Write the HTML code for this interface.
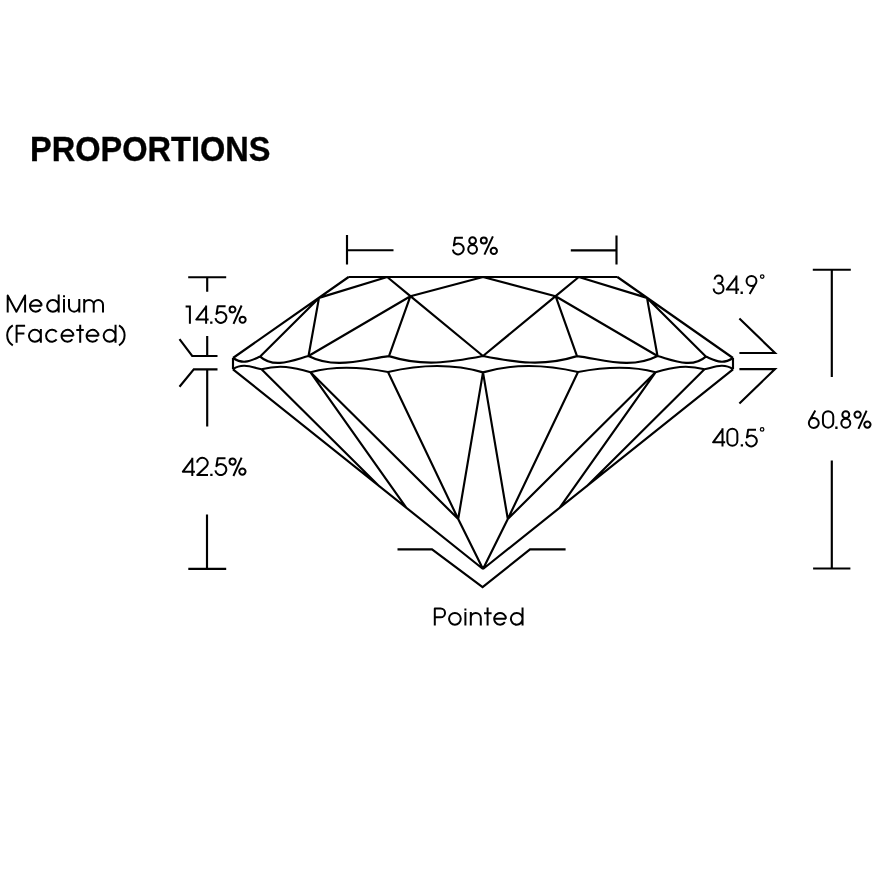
<!DOCTYPE html>
<html><head><meta charset="utf-8"><style>
html,body{margin:0;padding:0;background:#fff;}
body{width:882px;height:884px;overflow:hidden;}
svg{display:block;}
text{font-family:"Liberation Sans", sans-serif;fill:#000;stroke:#fff;stroke-width:0.3px;}
text.b{stroke:#000;stroke-width:0.35px;}
</style></head><body>
<svg width="882" height="884" viewBox="0 0 882 884">
<path d="M348.6,277 L233,358 M617.4,277 L733,358 M319,297.9 L387.2,277 M647,297.9 L578.8,277 M319,297.9 L308.5,356 M647,297.9 L657.5,356 M319,297.9 L260.2,356.6 M647,297.9 L705.8,356.6 M387.2,277 L410.4,296.2 M578.8,277 L555.6,296.2 M410.4,296.2 L483,277 M555.6,296.2 L483,277 M410.4,296.2 L483,356 M555.6,296.2 L483,356 M410.4,296.2 L308.5,356 M555.6,296.2 L657.5,356 M410.4,296.2 L389,356.1 M555.6,296.2 L577,356.1 M233,358 L233,369.3 M733,358 L733,369.3 M233,369.3 L483,569 M733,369.3 L483,569 M261.5,369.3 L379.5,486.6 M704.5,369.3 L586.5,486.6 M310.5,372.3 L406.6,508.2 M655.5,372.3 L559.4,508.2 M310.5,372.3 L458.2,519 M655.5,372.3 L507.8,519 M388,372 L458.2,519 M578,372 L507.8,519 M483,372.4 L458.2,519 M483,372.4 L507.8,519 M458.2,519 L483,569 M507.8,519 L483,569 M233,358 C243.61,364.93 249.76,360.93 260.2,356.6 M733,358 C722.39,364.93 716.24,360.93 705.8,356.6 M260.2,356.6 C274.07,369.21 294.34,359.68 308.5,356 M705.8,356.6 C691.93,369.21 671.66,359.68 657.5,356 M308.5,356 C335.31,369.69 362.19,359.5 389,356.1 M657.5,356 C630.69,369.69 603.81,359.5 577,356.1 M389,356.1 C422.77,366.72 449.49,362.54 483,356 M577,356.1 C543.23,366.72 516.51,362.54 483,356 M233,369.3 C242.41,362.47 252.06,367.31 261.5,369.3 M733,369.3 C723.59,362.47 713.94,367.31 704.5,369.3 M261.5,369.3 C279.42,364.47 292.76,366.97 310.5,372.3 M704.5,369.3 C686.58,364.47 673.24,366.97 655.5,372.3 M310.5,372.3 C336.43,365.11 362.1,367.1 388,372 M655.5,372.3 C629.57,365.11 603.9,367.1 578,372 M388,372 C419.69,364.61 451.31,362.97 483,372.4 M578,372 C546.31,364.61 514.69,362.97 483,372.4 M348.6,277 L617.4,277" fill="none" stroke="#000" stroke-width="2.15" stroke-linejoin="miter" stroke-miterlimit="4" stroke-linecap="butt"/>
<path d="M347,235 L347,264.5 M347,250.2 L393.5,250.2 M616.5,235.5 L616.5,264.4 M570.8,250.3 L616.5,250.3 M188.2,277.2 L226.2,277.2 M207.2,277.2 L207.2,291.7 M207.2,336 L207.2,356 M179.5,339.2 L192.2,356 L217.5,356 M179.5,386.7 L193.8,369.3 L217.5,369.3 M207.2,369.3 L207.2,426.4 M207,514.6 L207,568.8 M188.3,568.8 L226.2,568.8 M739.4,318.5 L775,353 L739.4,353 M739.4,369.1 L775,369.1 L739.4,403.4 M812.8,269.7 L850.8,269.7 M831.8,269.7 L831.8,377 M831.8,460.4 L831.8,568.5 M813.1,568.5 L850.4,568.5 M397.5,549.4 L432,549.4 L482.6,587.1 L530,549.4 L565.6,549.4" fill="none" stroke="#000" stroke-width="2.15" stroke-linejoin="miter" stroke-linecap="butt"/>
<g style="opacity:0.999;will-change:transform"><text x="30" y="161" font-size="34.30" textLength="240.5" lengthAdjust="spacingAndGlyphs" font-weight="bold" class="b">PROPORTIONS</text>
<path d="M7.7,312.6 L7.7,295.45 L16.4,311.7 L25.1,295.45 L25.1,312.6 M29.35,305.85 L41.6,305.85 M41.6,305.85 A5.8,5.8 0 1 0 40.55,309.18 M47.1,305.85 A5.8,5.8 0 1 0 58.7,305.85 A5.8,5.8 0 1 0 47.1,305.85 M58.7,294.5 L58.7,312.6 M64,299.1 L64,312.6 M64,295.2 L64,297.3 M69,299.1 L69,306.5 M69,306.5 A5.15,5.15 0 0 0 79.3,306.5 M79.3,299.1 L79.3,312.6 M84.2,299.1 L84.2,312.6 M84.2,304.82 A4.77,4.77 0 0 1 93.75,304.82 L93.75,312.6 M93.75,304.68 A4.62,4.62 0 0 1 103,304.68 L103,312.6 M12.8,325.3 A11.73,11.73 0 0 0 12.8,345.3 M16.6,342.7 L16.6,325.75 L25.1,325.75 M16.6,333.6 L24.4,333.6 M28.95,335.8 A5.95,5.95 0 1 0 40.85,335.8 A5.95,5.95 0 1 0 28.95,335.8 M40.85,328.9 L40.85,342.7 M56.69,332.14 A5.95,5.95 0 1 0 56.69,339.46 M60.9,335.8 L73.45,335.8 M73.45,335.8 A5.95,5.95 0 1 0 72.37,339.21 M80.2,324.8 L80.2,342.7 M76.3,329.9 L83.8,329.9 M86,335.8 L98.55,335.8 M98.55,335.8 A5.95,5.95 0 1 0 97.47,339.21 M103.65,335.8 A5.95,5.95 0 1 0 115.55,335.8 A5.95,5.95 0 1 0 103.65,335.8 M115.55,324.8 L115.55,342.7 M119,325.3 A11.73,11.73 0 0 1 119,345.3 M434.8,625.6 L434.8,608.45 L440.6,608.45 A4.45,4.45 0 0 1 440.6,617.35 L434.8,617.35 M449.05,618.8 A5.85,5.85 0 1 0 460.75,618.8 A5.85,5.85 0 1 0 449.05,618.8 M465.4,612 L465.4,625.6 M465.4,608.6 L465.4,610.5 M470.8,612 L470.8,625.6 M470.8,617.95 A5,5 0 0 1 480.8,617.95 L480.8,625.6 M487.6,607.5 L487.6,625.6 M484,613.2 L491.6,613.2 M493.6,618.8 L505.95,618.8 M505.95,618.8 A5.85,5.85 0 1 0 504.89,622.16 M510.85,618.8 A5.85,5.85 0 1 0 522.55,618.8 A5.85,5.85 0 1 0 510.85,618.8 M522.55,607.5 L522.55,625.6 M189.9,305.5 L189.9,323.8 M185.6,306.45 L190.85,306.45 M206.1,323.8 L206.1,305.5 M206.4,306.4 L196.3,319.5 L208.6,319.5  M225.6,306.15 L217.8,306.15 L216.55,314 A5.5,5.5 0 1 1 215.45,318.17 M229.55,309.5 A2.95,2.95 0 1 0 235.45,309.5 A2.95,2.95 0 1 0 229.55,309.5 M241.6,305.5 L233.5,323.8 M239.55,319.7 A3.05,3.05 0 1 0 245.65,319.7 A3.05,3.05 0 1 0 239.55,319.7 M192.3,476 L192.3,457.7 M192.6,458.6 L182.9,471.7 L194.9,471.7 M197.12,462.54 A5.3,5.3 0 1 1 206.58,466.26 L197.3,475.05 L208,475.05  M225.5,458.35 L217.7,458.35 L216.45,466.2 A5.5,5.5 0 1 1 215.35,470.37 M229.5,461.6 A3.1,3.1 0 1 0 235.7,461.6 A3.1,3.1 0 1 0 229.5,461.6 M241.6,457.7 L233.4,476 M239.25,471.6 A3.15,3.15 0 1 0 245.55,471.6 A3.15,3.15 0 1 0 239.25,471.6 M462.9,237.65 L455.1,237.65 L453.85,245.5 A5.5,5.5 0 1 1 452.75,249.67 M469.25,240.7 A3.35,3.35 0 1 0 475.95,240.7 A3.35,3.35 0 1 0 469.25,240.7 M468.2,249.3 A4.4,4.4 0 1 0 477,249.3 A4.4,4.4 0 1 0 468.2,249.3 M480.8,240.5 A3,3 0 1 0 486.8,240.5 A3,3 0 1 0 480.8,240.5 M492.9,236.4 L484.4,254.6 M490.65,250.9 A3.15,3.15 0 1 0 496.95,250.9 A3.15,3.15 0 1 0 490.65,250.9 M808.85,423 A4.95,4.95 0 1 0 818.75,423 A4.95,4.95 0 1 0 808.85,423 M815.3,410.6 L809.15,421.31 M822.95,416.3 A5.15,5.15 0 0 1 833.25,416.3 L833.25,422.5 A5.15,5.15 0 0 1 822.95,422.5 Z  M842.35,414.65 A3.45,3.45 0 1 0 849.25,414.65 A3.45,3.45 0 1 0 842.35,414.65 M841.3,423.2 A4.5,4.5 0 1 0 850.3,423.2 A4.5,4.5 0 1 0 841.3,423.2 M854.45,414.6 A3.15,3.15 0 1 0 860.75,414.6 A3.15,3.15 0 1 0 854.45,414.6 M866.6,410.7 L858.4,428.9 M864.25,424.6 A3.15,3.15 0 1 0 870.55,424.6 A3.15,3.15 0 1 0 864.25,424.6 M714.65,279.4 A3.95,3.95 0 1 1 718.6,283.35 L717.4,283.35 M718.6,283.55 A4.95,4.95 0 1 1 713.65,288.5 M736.4,293.9 L736.4,275.6 M736.7,276.5 L726.8,289.6 L739.1,289.6  M746.55,281 A4.95,4.95 0 1 0 756.45,281 A4.95,4.95 0 1 0 746.55,281 M756.15,282.69 L749.6,293.9 M722.5,446.6 L722.5,428.3 M722.8,429.2 L713.1,442.3 L725.2,442.3 M727.35,433.85 A5,5 0 0 1 737.35,433.85 L737.35,440.65 A5,5 0 0 1 727.35,440.65 Z  M756,429.65 L748.2,429.65 L746.95,437.5 A5.5,5.5 0 1 1 745.85,441.67" fill="none" stroke="#000" stroke-width="2.0" stroke-linejoin="round" stroke-linecap="butt"/>
<path d="M760.45,276.6 A1.75,1.75 0 1 0 763.95,276.6 A1.75,1.75 0 1 0 760.45,276.6 M760.35,429.4 A1.75,1.75 0 1 0 763.85,429.4 A1.75,1.75 0 1 0 760.35,429.4" fill="none" stroke="#000" stroke-width="1.25"/>
<path d="M210.15,321.5 h2.3 v2.3 h-2.3 Z M210.25,473.7 h2.3 v2.3 h-2.3 Z M835.25,426.6 h2.3 v2.3 h-2.3 Z M740.55,291.6 h2.3 v2.3 h-2.3 Z M740.75,444.3 h2.3 v2.3 h-2.3 Z" fill="#000"/>
</g>
</svg>
</body></html>
